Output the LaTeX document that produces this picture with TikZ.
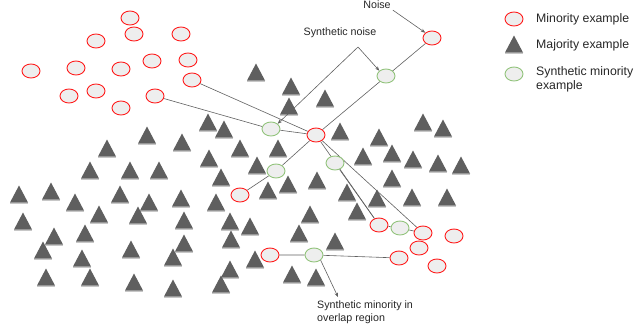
\documentclass[tikz,border=0pt]{standalone}
\usepackage{fontspec}
\setmainfont{Liberation Sans}
\usetikzlibrary{shapes.geometric, arrows.meta}

\definecolor{minred}{HTML}{FF1F1F}
\definecolor{syngreen}{HTML}{93C47D}
\definecolor{dotfill}{HTML}{EEEEEE}
\definecolor{majgray}{HTML}{5F5F5F}
\definecolor{linkgray}{HTML}{606060}

\pgfdeclarelayer{back}
\pgfdeclarelayer{mid}
\pgfsetlayers{back,mid,main}

\tikzset{
	minority/.style={ellipse, draw=minred, fill=dotfill, line width=0.9pt, minimum width=18pt, minimum height=14pt, inner sep=0pt},
	synthetic/.style={minority, draw=syngreen},
	link/.style={draw=linkgray, line width=0.6pt},
	pointer/.style={link, -{Stealth[length=4.5pt, width=3.5pt]}},
	note/.style={font=\fontsize{10.7}{13}\selectfont, text=black!85, inner sep=0pt},
	legendtext/.style={font=\fontsize{12.3}{14}\selectfont, text=black!85, inner sep=0pt, anchor=west, align=left},
	majority/.pic={
		\fill[black!22] (-9,8.6) rectangle (9,9.8);
		\fill[majgray] (0,-8.5) -- (9,8.5) -- (-9,8.5) -- cycle;
	}
}

\begin{document}
\begin{tikzpicture}[x=1pt, y=-1pt]
	\useasboundingbox (0,0) rectangle (634,330);

	\begin{pgfonlayer}{back}
		\foreach \x/\y in {256/72, 291/86, 289/106, 325/98, 208/122, 224/129, 147/135, 182/142,
			107/148, 240/148, 278/148, 209/158, 257/165, 90/170, 130/170, 159/170, 221/177,
			19/194, 51/191, 75/202, 120/194, 149/202, 181/198, 216/202, 99/214, 138/215,
			184/220, 230/221, 250/226, 23/221, 54/236, 85/233, 184/243, 231/239, 43/250,
			82/258, 131/249, 173/257, 255/259, 230/269, 46/277, 90/277, 134/282, 173/288,
			221/284, 292/274, 316/277, 299/233, 335/241, 310/214, 268/190, 288/184, 317/180,
			340/131, 379/137, 423/122, 443/128, 363/156, 392/153, 413/159, 438/163, 461/165,
			392/178, 347/192, 377/198, 412/197, 447/197, 357/211}
			\pic at (\x,\y) {majority};
	\end{pgfonlayer}

	\foreach \name/\x/\y in {m1/130/18, m2/134/34, m3/181/34, m4/96/41, m5/31/71, m6/76/68,
		m7/121/69, m8/152/61, m9/188/60, m10/192/80, m11/69/96, m12/96/91, m13/155/96,
		m14/121/108, m15/240/195, m16/379/225, m17/423/233, m18/454/236, m19/419/248,
		m20/437/266, m21/399/258, m22/270/255}
		\node[minority] (\name) at (\x,\y) {};
	\node[minority] (noise) at (432,38) {};
	\node[minority] (core) at (316,135) {};

	\node[synthetic] (sn1) at (386,76) {};
	\node[synthetic] (sn2) at (271,129) {};
	\node[synthetic] (s3) at (276,171) {};
	\node[synthetic] (s4) at (335,163) {};
	\node[synthetic] (s5) at (400,228) {};
	\node[synthetic] (s6) at (314,255) {};

	\begin{pgfonlayer}{mid}
		\draw[link] (noise) -- (core);
		\draw[link] (m10) -- (core);
		\draw[link] (m13) -- (sn2) -- (core);
		\draw[link] (core) -- (s3) -- (m15);
		\draw[link] (core) -- (m16);
		\draw[link] (s4.-55) -- (m16);
		\draw[link] (core) -- (m17);
		\draw[link] (m16) -- (s5) -- (m17);
		\draw[link] (m22) -- (s6) -- (m21);
	\end{pgfonlayer}

	\node[note] (noiselbl) at (377,5) {Noise};
	\draw[pointer] (noiselbl.south east) ++(2,1) -- (noise.north west);

	\node[note] (snlbl) at (340,33) {Synthetic noise};
	\coordinate (fork) at (358,47);
	\draw[pointer] (fork) -- (sn1.north west);
	\draw[pointer] (fork) -- (sn2.north east);

	\node[note, anchor=north west, align=left] (ovlbl) at (317,301) {Synthetic minority in\\overlap region};
	\coordinate (ovtip) at (338,297);
	\draw[pointer] (s6.south east) -- (ovtip);

	\node[minority] (keymin) at (514,19) {};
	\pic at (514,44) {majority};
	\node[synthetic] (keysyn) at (514,74) {};
	\node[legendtext] (keymintxt) at (536,19) {Minority example};
	\node[legendtext] (keymajtxt) at (536,45) {Majority example};
	\node[legendtext, anchor=north west] (keysyntxt) at (536,66) {Synthetic minority\\example};
\end{tikzpicture}
\end{document}
